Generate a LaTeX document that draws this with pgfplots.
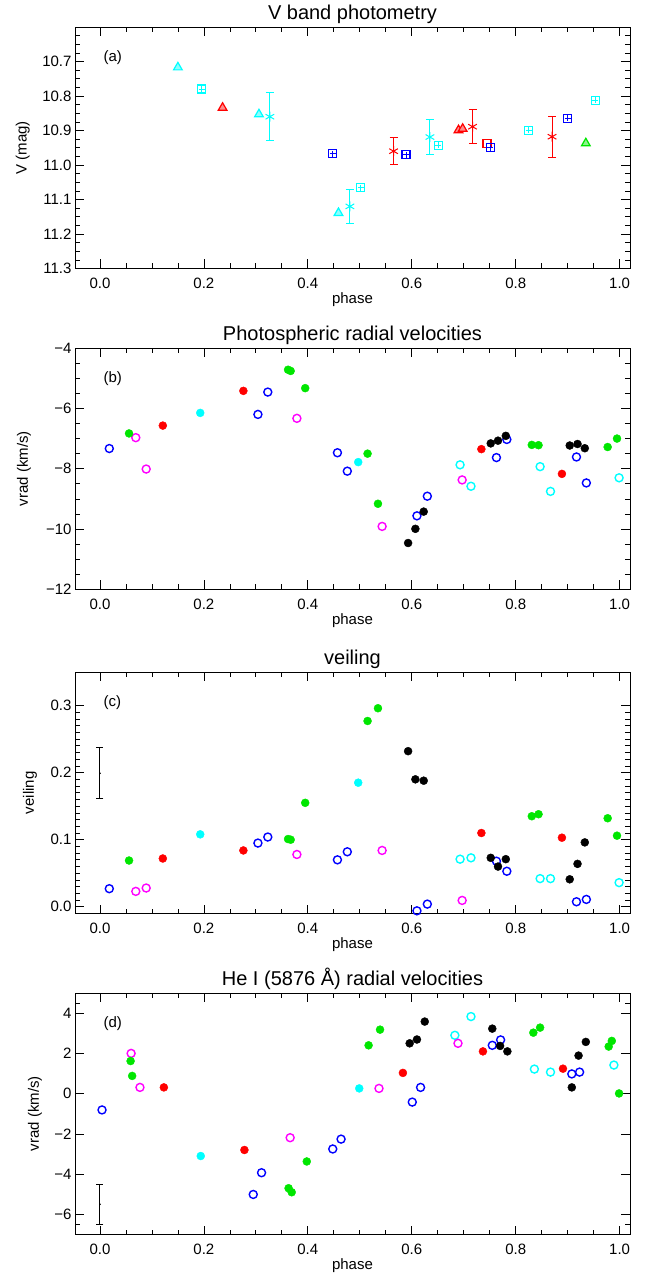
\documentclass[border=0pt]{standalone}
\usepackage{fontspec}
\setmainfont{Liberation Sans}
\usepackage{pgfplots}
\pgfplotsset{compat=1.18}
\usepackage{pgfplotstable}

\definecolor{cyn}{RGB}{0,255,255}
\definecolor{grn}{RGB}{0,230,0}
\definecolor{mag}{RGB}{255,0,255}
\definecolor{rd}{RGB}{255,0,0}
\definecolor{bl}{RGB}{0,0,255}

% ---------- panel (a) ----------
\pgfplotstableread{
x y
0.150 10.717
0.306 10.853
0.459 11.139
}\aTriCyan
\pgfplotstableread{
x y
0.236 10.834
0.690 10.899
0.698 10.895
}\aTriRed
\pgfplotstableread{
x y
0.935 10.937
}\aTriGreen
\pgfplotstableread{
x y
0.196 10.780
0.502 11.066
0.651 10.943
0.825 10.900
0.953 10.813
}\aSqCyan
\pgfplotstableread{
x y
0.448 10.967
0.589 10.970
0.751 10.950
0.900 10.865
}\aSqBlue
\pgfplotstableread{
x y
0.745 10.937
}\aSqRed
\pgfplotstableread{
x y e
0.327 10.860 0.070
0.481 11.120 0.050
0.635 10.919 0.050
}\aAstCyan
\pgfplotstableread{
x y e
0.565 10.960 0.040
0.717 10.889 0.050
0.870 10.918 0.060
}\aAstRed

% ---------- panels (b) and (c): phase, vrad, veiling ----------
\pgfplotstableread{
x v w
0.593 -10.46 0.232
0.607 -9.99 0.190
0.623 -9.42 0.188
0.752 -7.16 0.073
0.766 -7.07 0.060
0.781 -6.91 0.071
0.904 -7.23 0.041
0.919 -7.18 0.064
0.933 -7.32 0.096
}\bcBlack
\pgfplotstableread{
x v w
0.056 -6.83 0.069
0.362 -4.72 0.101
0.367 -4.76 0.100
0.395 -5.33 0.155
0.515 -7.50 0.277
0.535 -9.16 0.296
0.831 -7.21 0.135
0.844 -7.22 0.138
0.977 -7.28 0.132
0.995 -7.00 0.106
}\bcGreen
\pgfplotstableread{
x v w
0.121 -6.57 0.072
0.276 -5.42 0.084
0.734 -7.35 0.110
0.889 -8.17 0.103
}\bcRed
\pgfplotstableread{
x v w
0.193 -6.15 0.108
0.497 -7.78 0.185
}\bcCyanF
\pgfplotstableread{
x v w
0.018 -7.33 0.027
0.304 -6.20 0.095
0.323 -5.46 0.104
0.457 -7.47 0.070
0.476 -8.08 0.082
0.610 -9.56 -0.006
0.630 -8.91 0.004
0.763 -7.63 0.068
0.783 -7.03 0.053
0.917 -7.61 0.0075
0.936 -8.47 0.011
}\bcBlue
\pgfplotstableread{
x v w
0.693 -7.87 0.071
0.714 -8.58 0.073
0.847 -7.93 0.042
0.867 -8.75 0.042
0.999 -8.30 0.036
}\bcCyanO
\pgfplotstableread{
x v w
0.069 -6.97 0.023
0.089 -8.01 0.028
0.379 -6.33 0.078
0.543 -9.91 0.084
0.697 -8.37 0.0095
}\bcMag

% ---------- panel (d) ----------
\pgfplotstableread{
x y
0.596 2.50
0.610 2.69
0.625 3.58
0.755 3.23
0.770 2.37
0.784 2.10
0.908 0.31
0.921 1.89
0.935 2.57
}\dBlack
\pgfplotstableread{
x y
0.059 1.62
0.062 0.88
0.363 -4.70
0.369 -4.90
0.398 -3.37
0.517 2.40
0.539 3.18
0.834 3.03
0.847 3.28
0.979 2.34
0.985 2.62
0.999 0.01
}\dGreen
\pgfplotstableread{
x y
0.123 0.31
0.278 -2.80
0.583 1.03
0.737 2.10
0.891 1.24
}\dRed
\pgfplotstableread{
x y
0.194 -3.10
0.499 0.26
}\dCyanF
\pgfplotstableread{
x y
0.004 -0.81
0.295 -5.01
0.311 -3.93
0.448 -2.75
0.464 -2.26
0.601 -0.42
0.617 0.31
0.755 2.40
0.771 2.67
0.908 0.98
0.923 1.07
}\dBlue
\pgfplotstableread{
x y
0.683 2.90
0.714 3.83
0.836 1.22
0.867 1.07
0.989 1.42
}\dCyanO
\pgfplotstableread{
x y
0.060 2.00
0.077 0.31
0.366 -2.19
0.537 0.26
0.689 2.50
}\dMag

\pgfplotsset{
  panel/.style={
    scale only axis, width=555pt, height=241.5pt,
    anchor=north west,
    xmin=-0.048, xmax=1.02,
    xtick={0,0.2,0.4,0.6,0.8,1.0},
    xticklabels={0.0,0.2,0.4,0.6,0.8,1.0},
    minor x tick num=3,
    tick align=inside,
    major tick length=9pt, minor tick length=5pt,
    every tick/.style={black, line width=0.7pt},
    axis line style={line width=0.8pt},
    tick label style={font=\fontsize{15}{17}\selectfont},
    x tick label style={yshift=-6pt},
    label style={font=\fontsize{15}{17}\selectfont},
    title style={font=\fontsize{20}{23}\selectfont, at={(0.5,1)}, anchor=base, yshift=2pt},
    xlabel={phase},
    xlabel style={at={(axis description cs:0.5,0)}, anchor=center, yshift=-31pt},
  },
  ylab/.style={ylabel style={at={(axis description cs:#1,0.5)}, anchor=center}},
  fc/.style={only marks, mark=*, mark size=4pt, color=#1, mark options={draw=#1, fill=#1}},
  oc/.style={only marks, mark=o, mark size=4pt, color=#1, mark options={draw=#1, line width=1.4pt}},
  tri/.style={only marks, mark=triangle*, mark size=5pt, color=#1, mark options={draw=#1, fill=#1!45!white, line width=1.2pt}},
  sqr/.style={only marks, mark=square, mark size=4pt, color=#1, mark options={draw=#1, line width=1.3pt}},
  sqp/.style={only marks, mark=+, mark size=3pt, color=#1, mark options={draw=#1, line width=1pt}},
  ast/.style={only marks, mark=asterisk, mark size=5pt, color=#1, mark options={draw=#1, line width=1pt},
    error bars/.cd, y dir=both, y explicit,
    error bar style={line width=1pt, #1},
    error mark options={rotate=90, mark size=4pt, line width=1pt, #1}},
}

\begin{document}
\begin{tikzpicture}
\path[use as bounding box] (0pt,0pt) rectangle (656pt,-1279pt);

% (a)
\begin{axis}[panel, at={(75pt,-27pt)},
  title={V band photometry},
  y dir=reverse, ymin=10.6, ymax=11.3,
  ytick={10.7,10.8,10.9,11.0,11.1,11.2,11.3},
  yticklabels={10.7,10.8,10.9,11.0,11.1,11.2,11.3},
  minor ytick={10.625,10.65,10.675,10.725,10.75,10.775,10.825,10.85,10.875,10.925,10.95,10.975,11.025,11.05,11.075,11.125,11.15,11.175,11.225,11.25,11.275},
  ylabel={V (mag)}, ylab=-0.094]
  \addplot[tri=cyn] table[x=x,y=y] {\aTriCyan};
  \addplot[tri=rd] table[x=x,y=y] {\aTriRed};
  \addplot[tri=grn] table[x=x,y=y] {\aTriGreen};
  \addplot[sqr=cyn] table[x=x,y=y] {\aSqCyan};
  \addplot[sqp=cyn] table[x=x,y=y] {\aSqCyan};
  \addplot[sqr=rd] table[x=x,y=y] {\aSqRed};
  \addplot[sqr=bl] table[x=x,y=y] {\aSqBlue};
  \addplot[sqp=bl] table[x=x,y=y] {\aSqBlue};
  \addplot[ast=cyn] table[x=x,y=y,y error=e] {\aAstCyan};
  \addplot[ast=rd] table[x=x,y=y,y error=e] {\aAstRed};
  \node[anchor=west, font=\fontsize{15}{17}\selectfont] at (rel axis cs:0.045,0.873) {(a)};
\end{axis}

% (b)
\begin{axis}[panel, at={(75pt,-348pt)},
  title={Photospheric radial velocities},
  ymin=-12, ymax=-4,
  ytick={-12,-10,-8,-6,-4},
  yticklabels={−12,−10,−8,−6,−4},
  minor y tick num=3,
  ylabel={vrad (km/s)}, ylab=-0.092]
  \addplot[oc=bl] table[x=x,y=v] {\bcBlue};
  \addplot[oc=cyn] table[x=x,y=v] {\bcCyanO};
  \addplot[oc=mag] table[x=x,y=v] {\bcMag};
  \addplot[fc=grn] table[x=x,y=v] {\bcGreen};
  \addplot[fc=rd] table[x=x,y=v] {\bcRed};
  \addplot[fc=cyn] table[x=x,y=v] {\bcCyanF};
  \addplot[fc=black] table[x=x,y=v] {\bcBlack};
  \node[anchor=west, font=\fontsize{15}{17}\selectfont] at (rel axis cs:0.045,0.873) {(b)};
\end{axis}

% (c)
\begin{axis}[panel, at={(75pt,-672pt)},
  title={veiling},
  ymin=-0.01, ymax=0.35,
  ytick={0,0.1,0.2,0.3},
  yticklabels={0.0,0.1,0.2,0.3},
  minor y tick num=9,
  ylabel={veiling}, ylab=-0.081]
  \addplot[black, only marks, mark=*, mark size=0.6pt,
    error bars/.cd, y dir=both, y explicit,
    error bar style={line width=0.9pt, black},
    error mark options={rotate=90, mark size=3.5pt, line width=0.9pt, black}]
    coordinates {(0,0.199) +- (0,0.038)};
  \addplot[oc=bl] table[x=x,y=w] {\bcBlue};
  \addplot[oc=cyn] table[x=x,y=w] {\bcCyanO};
  \addplot[oc=mag] table[x=x,y=w] {\bcMag};
  \addplot[fc=grn] table[x=x,y=w] {\bcGreen};
  \addplot[fc=rd] table[x=x,y=w] {\bcRed};
  \addplot[fc=cyn] table[x=x,y=w] {\bcCyanF};
  \addplot[fc=black] table[x=x,y=w] {\bcBlack};
  \node[anchor=west, font=\fontsize{15}{17}\selectfont] at (rel axis cs:0.045,0.873) {(c)};
\end{axis}

% (d)
\begin{axis}[panel, at={(75pt,-993pt)},
  title={He I (5876 Å) radial velocities},
  ymin=-7, ymax=5,
  ytick={-6,-4,-2,0,2,4},
  yticklabels={−6,−4,−2,0,2,4},
  minor y tick num=3,
  minor ytick={-6.5,4.5},
  ylabel={vrad (km/s)}, ylab=-0.072]
  \addplot[black, only marks, mark=*, mark size=0.6pt,
    error bars/.cd, y dir=both, y explicit,
    error bar style={line width=0.9pt, black},
    error mark options={rotate=90, mark size=3.5pt, line width=0.9pt, black}]
    coordinates {(0,-5.5) +- (0,1.0)};
  \addplot[oc=bl] table[x=x,y=y] {\dBlue};
  \addplot[oc=cyn] table[x=x,y=y] {\dCyanO};
  \addplot[oc=mag] table[x=x,y=y] {\dMag};
  \addplot[fc=grn] table[x=x,y=y] {\dGreen};
  \addplot[fc=rd] table[x=x,y=y] {\dRed};
  \addplot[fc=cyn] table[x=x,y=y] {\dCyanF};
  \addplot[fc=black] table[x=x,y=y] {\dBlack};
  \node[anchor=west, font=\fontsize{15}{17}\selectfont] at (rel axis cs:0.045,0.873) {(d)};
\end{axis}
\end{tikzpicture}
\end{document}
